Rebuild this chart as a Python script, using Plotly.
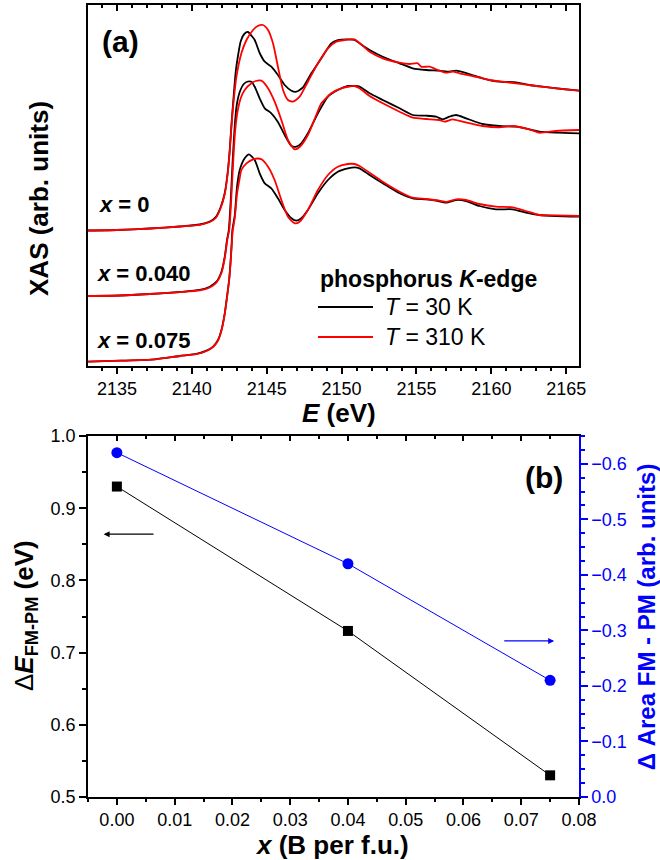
import plotly.graph_objects as go

# ---------------- panel (a): P K-edge XAS spectra ----------------
E_x0_30K = [2133.07, 2135.00, 2137.20, 2139.20, 2140.53, 2141.20, 2141.60, 2141.93, 2142.20, 2142.40,
            2142.53, 2142.67, 2142.80, 2142.93, 2143.07, 2143.27, 2143.50, 2143.75, 2144.00, 2144.20,
            2144.53, 2144.87, 2145.31, 2145.75, 2146.20, 2146.65, 2146.98, 2147.42, 2147.98, 2148.65,
            2149.31, 2149.75, 2150.42, 2150.87, 2151.20, 2151.87, 2152.75, 2153.87, 2154.75, 2155.65,
            2156.53, 2157.20, 2157.65, 2158.53, 2159.42, 2160.53, 2161.65, 2162.53, 2163.42, 2164.75, 2165.85]
I_x0_30K = [1.355, 1.36, 1.375, 1.395, 1.415, 1.445, 1.49, 1.59, 1.73, 1.94,
            2.16, 2.46, 2.71, 2.94, 3.09, 3.25, 3.32, 3.34, 3.30, 3.26,
            3.13, 3.043, 2.993, 2.91, 2.81, 2.753, 2.743, 2.787, 2.927, 3.077,
            3.227, 3.26, 3.267, 3.26, 3.227, 3.16, 3.093, 3.027, 2.977, 2.96,
            2.953, 2.943, 2.953, 2.92, 2.877, 2.843, 2.837, 2.81, 2.793, 2.77, 2.753]

E_x0_310K = [2133.07, 2135.00, 2137.20, 2139.20, 2140.53, 2141.20, 2141.60, 2141.93, 2142.20, 2142.40,
             2142.53, 2142.67, 2142.80, 2142.98, 2143.31, 2143.65, 2144.09, 2144.40, 2144.75, 2145.09,
             2145.42, 2145.75, 2146.09, 2146.42, 2146.75, 2147.20, 2147.75, 2148.42, 2149.09, 2149.65,
             2150.20, 2150.87, 2151.87, 2152.75, 2153.87, 2154.53, 2155.09, 2155.31, 2155.87, 2156.42,
             2156.98, 2157.42, 2157.87, 2158.75, 2159.87, 2160.75, 2161.65, 2162.98, 2164.31, 2165.85]
I_x0_310K = [1.355, 1.36, 1.375, 1.395, 1.412, 1.44, 1.48, 1.58, 1.72, 1.93,
             2.14, 2.44, 2.66, 2.893, 3.127, 3.26, 3.36, 3.40, 3.41, 3.36,
             3.227, 2.993, 2.76, 2.66, 2.643, 2.693, 2.843, 3.027, 3.177, 3.243,
             3.26, 3.267, 3.143, 3.077, 3.033, 3.02, 3.027, 2.993, 2.993, 2.96,
             2.933, 2.943, 2.927, 2.90, 2.86, 2.843, 2.827, 2.80, 2.777, 2.753]

E_x040_30K = [2133.07, 2135.20, 2137.20, 2139.20, 2140.53, 2141.20, 2141.65, 2141.98, 2142.20, 2142.35,
              2142.47, 2142.60, 2142.73, 2142.87, 2143.00, 2143.20, 2143.47, 2143.75, 2143.98, 2144.20,
              2144.53, 2144.87, 2145.31, 2145.75, 2146.20, 2146.65, 2146.98, 2147.31, 2147.75, 2148.42,
              2149.09, 2149.75, 2150.42, 2150.87, 2151.20, 2151.87, 2152.75, 2153.87, 2154.75, 2155.65,
              2156.31, 2156.75, 2157.20, 2157.65, 2158.31, 2159.42, 2160.53, 2161.65, 2162.53, 2163.20,
              2164.31, 2165.85]
I_x040_30K = [0.70, 0.705, 0.72, 0.74, 0.76, 0.793, 0.843, 0.943, 1.093, 1.26,
              1.36, 1.66, 2.06, 2.41, 2.61, 2.74, 2.82, 2.845, 2.843, 2.793,
              2.677, 2.577, 2.527, 2.44, 2.31, 2.20, 2.193, 2.227, 2.327, 2.527,
              2.693, 2.76, 2.80, 2.80, 2.793, 2.727, 2.66, 2.577, 2.51, 2.503,
              2.493, 2.467, 2.493, 2.51, 2.477, 2.42, 2.40, 2.393, 2.367, 2.343,
              2.333, 2.327]

E_x040_310K = [2133.07, 2135.20, 2137.20, 2139.20, 2140.53, 2141.20, 2141.65, 2141.98, 2142.20, 2142.37,
               2142.50, 2142.63, 2142.77, 2142.90, 2143.07, 2143.27, 2143.53, 2143.98, 2144.27, 2144.65,
               2145.09, 2145.53, 2145.98, 2146.42, 2146.87, 2147.20, 2147.75, 2148.31, 2148.65, 2149.31,
               2149.98, 2150.87, 2151.20, 2151.87, 2152.75, 2153.87, 2154.75, 2155.65, 2156.53, 2156.87,
               2157.42, 2158.09, 2159.42, 2160.53, 2161.42, 2162.53, 2163.20, 2164.31, 2165.85]
I_x040_310K = [0.70, 0.705, 0.72, 0.738, 0.755, 0.785, 0.835, 0.93, 1.08, 1.26,
               1.36, 1.66, 2.06, 2.36, 2.56, 2.68, 2.76, 2.827, 2.85, 2.853,
               2.777, 2.643, 2.46, 2.26, 2.167, 2.19, 2.31, 2.51, 2.627, 2.727,
               2.777, 2.80, 2.777, 2.70, 2.627, 2.543, 2.483, 2.47, 2.46, 2.443,
               2.467, 2.443, 2.40, 2.387, 2.40, 2.367, 2.333, 2.35, 2.36]

E_x075_30K = [2133.07, 2135.27, 2137.53, 2139.20, 2140.31, 2140.98, 2141.42, 2141.75, 2141.98, 2142.20,
              2142.35, 2142.49, 2142.58, 2142.65, 2142.71, 2142.87, 2143.02, 2143.20, 2143.53, 2143.82,
              2144.20, 2144.53, 2144.87, 2145.31, 2145.75, 2146.20, 2146.65, 2146.98, 2147.31, 2147.75,
              2148.42, 2149.09, 2149.75, 2150.42, 2150.87, 2151.20, 2151.87, 2152.75, 2153.87, 2154.75,
              2155.65, 2156.31, 2156.98, 2157.65, 2158.31, 2159.20, 2160.31, 2161.42, 2162.31, 2163.20,
              2164.31, 2165.85]
I_x075_30K = [0.043, 0.053, 0.067, 0.10, 0.12, 0.153, 0.193, 0.26, 0.36, 0.527,
              0.693, 0.86, 1.027, 1.193, 1.36, 1.51, 1.793, 1.96, 2.077, 2.117,
              2.06, 1.927, 1.827, 1.777, 1.677, 1.56, 1.477, 1.453, 1.477, 1.56,
              1.727, 1.86, 1.943, 1.977, 1.987, 1.977, 1.91, 1.827, 1.727, 1.677,
              1.667, 1.653, 1.633, 1.66, 1.65, 1.60, 1.567, 1.567, 1.533, 1.51,
              1.50, 1.493]

E_x075_310K = [2133.07, 2135.27, 2137.53, 2139.20, 2140.31, 2140.98, 2141.42, 2141.75, 2141.98, 2142.20,
               2142.35, 2142.49, 2142.58, 2142.65, 2142.73, 2142.87, 2143.02, 2143.20, 2143.31, 2143.65,
               2144.09, 2144.40, 2144.65, 2145.09, 2145.53, 2145.98, 2146.42, 2146.87, 2147.20, 2147.75,
               2148.42, 2149.09, 2149.75, 2150.42, 2150.87, 2151.20, 2151.87, 2152.75, 2153.87, 2154.75,
               2155.65, 2156.53, 2156.98, 2157.65, 2158.31, 2159.20, 2160.31, 2161.42, 2162.31, 2163.20,
               2164.31, 2165.85]
I_x075_310K = [0.043, 0.053, 0.067, 0.10, 0.118, 0.15, 0.19, 0.255, 0.355, 0.52,
               0.685, 0.85, 1.015, 1.18, 1.35, 1.48, 1.72, 1.88, 1.96, 2.027,
               2.067, 2.075, 2.067, 1.993, 1.86, 1.66, 1.493, 1.427, 1.443, 1.56,
               1.76, 1.91, 1.993, 2.02, 2.02, 2.00, 1.933, 1.843, 1.743, 1.683,
               1.67, 1.653, 1.64, 1.667, 1.66, 1.62, 1.593, 1.587, 1.55, 1.51,
               1.507, 1.50]

# ---------------- panel (b) ----------------
x_B = [0.0, 0.04, 0.075]
dE_FM_PM = [0.93, 0.73, 0.53]
dArea_FM_PM = [-0.62, -0.42, -0.21]

FONT = "Liberation Sans, Arial, sans-serif"
BLUE = "#0000FF"
RED = "#FF0000"

fig = go.Figure()

spectra = [
    (E_x0_30K, I_x0_30K, "black"), (E_x0_310K, I_x0_310K, RED),
    (E_x040_30K, I_x040_30K, "black"), (E_x040_310K, I_x040_310K, RED),
    (E_x075_30K, I_x075_30K, "black"), (E_x075_310K, I_x075_310K, RED),
]
for E, I, c in spectra:
    fig.add_trace(go.Scatter(x=E, y=I, mode="lines", xaxis="x", yaxis="y",
                             line=dict(color=c, width=1.8, shape="spline", smoothing=0.6),
                             showlegend=False, hoverinfo="skip"))

fig.add_trace(go.Scatter(x=x_B, y=dE_FM_PM, mode="lines+markers", xaxis="x2", yaxis="y2",
                         line=dict(color="black", width=1),
                         marker=dict(symbol="square", size=10, color="black"),
                         showlegend=False))
fig.add_trace(go.Scatter(x=x_B, y=dArea_FM_PM, mode="lines+markers", xaxis="x2", yaxis="y3",
                         line=dict(color=BLUE, width=1),
                         marker=dict(symbol="circle", size=11, color=BLUE),
                         showlegend=False))
# placeholders so overlay tick axes are drawn
fig.add_trace(go.Scatter(x=[2140], y=[None], xaxis="x3", yaxis="y", showlegend=False, hoverinfo="skip"))
fig.add_trace(go.Scatter(x=[0.02], y=[None], xaxis="x4", yaxis="y2", showlegend=False, hoverinfo="skip"))

LW = 1.5
ax_common = dict(showgrid=False, zeroline=False, showline=True, linecolor="black", linewidth=LW,
                 tickcolor="black", tickwidth=LW, automargin=False,
                 tickfont=dict(family=FONT, size=18, color="black"))

xa_range = [2133.07, 2165.85]
xb_range = [-0.005, 0.08]

fig.update_layout(
    width=660, height=860,
    margin=dict(l=88, r=81, t=5, b=63, autoexpand=False),
    paper_bgcolor="white", plot_bgcolor="white",
    font=dict(family=FONT, color="black"),
    xaxis=dict(**ax_common, domain=[0, 1], anchor="y", range=xa_range, tick0=2135, dtick=5,
               ticks="outside", ticklen=6, mirror=True,
               minor=dict(dtick=1, tick0=2135, ticks="outside", ticklen=3, tickwidth=LW, tickcolor="black")),
    xaxis3=dict(overlaying="x", anchor="y", side="top", range=xa_range, tick0=2135, dtick=5,
                ticks="inside", ticklen=6, tickwidth=LW, tickcolor="black", showticklabels=False,
                showline=False, showgrid=False, zeroline=False, automargin=False,
                minor=dict(dtick=1, tick0=2135, ticks="inside", ticklen=3, tickwidth=LW, tickcolor="black")),
    yaxis=dict(**ax_common, domain=[0.5442, 1], anchor="x", range=[0, 3.61], ticks="",
               showticklabels=False, mirror=True),
    xaxis2=dict(**ax_common, domain=[0, 1], anchor="y2", range=xb_range, tick0=0, dtick=0.01,
                tickformat=".2f", ticks="outside", ticklen=6, mirror=True,
                minor=dict(dtick=0.005, tick0=0, ticks="outside", ticklen=3, tickwidth=LW, tickcolor="black")),
    xaxis4=dict(overlaying="x2", anchor="y2", side="top", range=xb_range, tick0=0, dtick=0.01,
                ticks="inside", ticklen=5, tickwidth=LW, tickcolor="black", showticklabels=False,
                showline=False, showgrid=False, zeroline=False, automargin=False,
                minor=dict(dtick=0.005, tick0=0, ticks="inside", ticklen=3, tickwidth=LW, tickcolor="black")),
    yaxis2=dict(**ax_common, domain=[0, 0.4558], anchor="x2", range=[0.5, 1.0], tick0=0.5, dtick=0.1,
                tickformat=".1f", ticks="outside", ticklen=7,
                minor=dict(dtick=0.05, tick0=0.5, ticks="outside", ticklen=4, tickwidth=LW, tickcolor="black")),
    yaxis3=dict(overlaying="y2", anchor="x2", side="right", range=[0.0, -0.65], tick0=0, dtick=0.1,
                tickformat=".1f", ticks="outside", ticklen=7, tickwidth=LW, tickcolor=BLUE,
                showline=True, linecolor=BLUE, linewidth=LW, showgrid=False, zeroline=False,
                automargin=False, tickfont=dict(family=FONT, size=18, color=BLUE),
                minor=dict(dtick=0.025, tick0=0, ticks="outside", ticklen=4, tickwidth=LW, tickcolor=BLUE)),
)

def ann(text, x, y, size, xanchor="center", yanchor="middle", angle=0, color="black"):
    fig.add_annotation(text=text, x=x, y=y, xref="paper", yref="paper", showarrow=False,
                       xanchor=xanchor, yanchor=yanchor, textangle=angle,
                       font=dict(family=FONT, size=size, color=color))

# panel (a) labels
ann("<b>(a)</b>", 0.0244, 0.9545, 30, xanchor="left")
ann("<b><i>x</i> = 0</b>", 0.0183, 0.7475, 22, xanchor="left")
ann("<b><i>x</i> = 0.040</b>", 0.0143, 0.6604, 22, xanchor="left")
ann("<b><i>x</i> = 0.075</b>", 0.0143, 0.5770, 22, xanchor="left")
ann("<b>phosphorus <i>K</i>-edge</b>", 0.4684, 0.6540, 23, xanchor="left")
ann("<i>T</i> = 30 K", 0.6008, 0.6187, 23, xanchor="left")
ann("<i>T</i> = 310 K", 0.6008, 0.5808, 23, xanchor="left")
fig.add_shape(type="line", xref="paper", yref="paper", x0=0.4684, x1=0.5804, y0=0.6187, y1=0.6187,
              line=dict(color="black", width=1.8))
fig.add_shape(type="line", xref="paper", yref="paper", x0=0.4684, x1=0.5804, y0=0.5808, y1=0.5808,
              line=dict(color=RED, width=1.8))
ann("<b>XAS (arb. units)</b>", -0.0988, 0.7557, 26, angle=-90)
ann("<b><i>E</i> (eV)</b>", 0.5102, 0.4848, 26)

# panel (b) labels
ann("<b>(b)</b>", 0.9287, 0.4040, 30)
ann("<b><i>x</i> (B per f.u.)</b>", 0.4969, -0.0606, 26)
ann("Δ<b><i>E</i><sub>FM-PM</sub> (eV)</b>", -0.1283, 0.2285, 26, angle=-90)
ann("<b>Δ Area FM - PM (arb. units)</b>", 1.1390, 0.2273, 24, angle=-90, color=BLUE)

# arrows
fig.add_annotation(x=-0.0023, y=0.864, ax=0.0066, ay=0.864, xref="x2", yref="y2", axref="x2", ayref="y2",
                   text="", showarrow=True, arrowhead=2, arrowsize=1, arrowwidth=1.2, arrowcolor="black")
fig.add_annotation(x=0.0757, y=-0.281, ax=0.0668, ay=-0.281, xref="x2", yref="y3", axref="x2", ayref="y3",
                   text="", showarrow=True, arrowhead=2, arrowsize=1, arrowwidth=1.2, arrowcolor=BLUE)

fig.write_html("out.html", config={"displayModeBar": False},
               post_script="document.body.style.margin='0px';document.body.style.overflow='hidden';")
